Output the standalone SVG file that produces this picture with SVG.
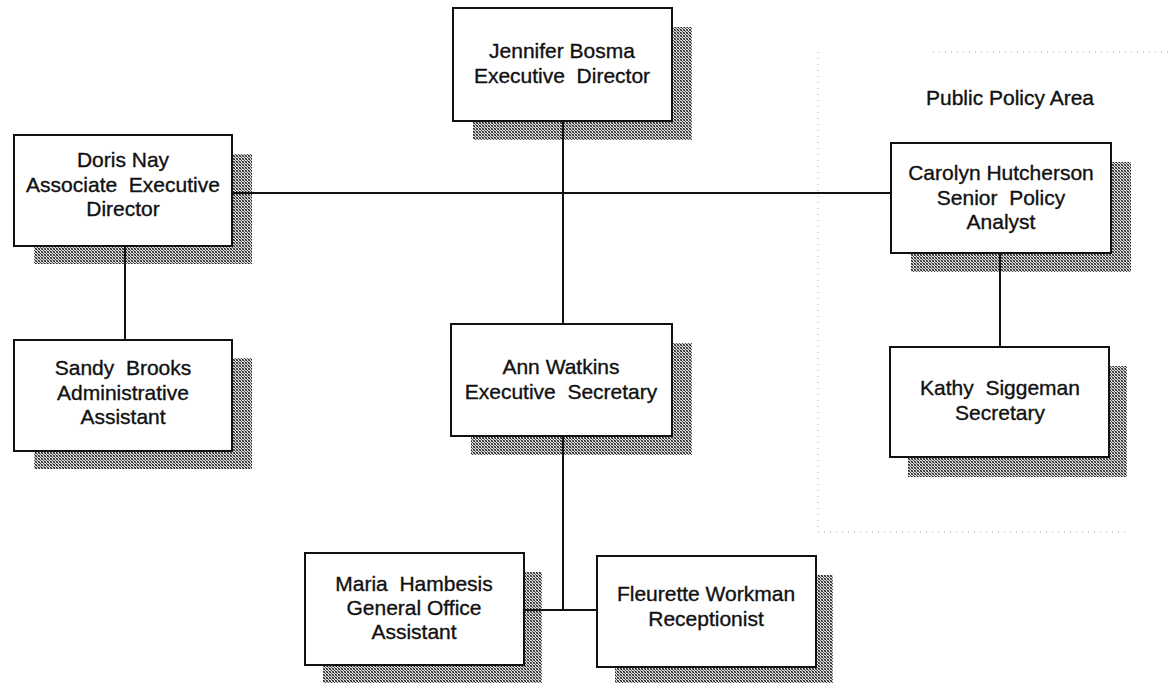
<svg xmlns="http://www.w3.org/2000/svg" width="1171" height="683" viewBox="0 0 1171 683">
  <defs>
    <!-- dithered halftone used for the drop shadows -->
    <pattern id="dither" width="3" height="3" patternUnits="userSpaceOnUse">
      <rect width="3" height="3" fill="#dcdcdc"/>
      <rect x="0" y="0" width="1" height="1" fill="#222"/>
      <rect x="1" y="1" width="1" height="1" fill="#555"/>
      <rect x="2" y="2" width="1" height="1" fill="#222"/>
      <rect x="2" y="0" width="1" height="1" fill="#777"/>
      <rect x="0" y="2" width="1" height="1" fill="#777"/>
    </pattern>
    <style>
      .shadow { fill: url(#dither); }
      .box { fill: #ffffff; stroke: #111; stroke-width: 2; }
      .label { font-family: "Liberation Sans", Arial, sans-serif; font-size: 21px; fill: #111; stroke: #111; stroke-width: 0.35; text-anchor: middle; }
      .wire { stroke: #111; stroke-width: 2; fill: none; }
      .area { stroke: #aaa; stroke-width: 1; stroke-dasharray: 1 5; fill: none; }
    </style>
  </defs>

  <rect width="1171" height="683" fill="#ffffff"/>

  <!-- dotted boundary of the public policy area -->
  <g id="policy-area">
    <path class="area" d="M818 52 V532 M933 52 H1171 M818 532 H1125"/>
    <text class="label" x="1010" y="105">Public Policy Area</text>
  </g>

  <!-- reporting lines -->
  <g id="connectors">
    <line class="wire" x1="563" y1="121" x2="563" y2="324"/>
    <line class="wire" x1="232" y1="193" x2="891" y2="193"/>
    <line class="wire" x1="125" y1="246" x2="125" y2="340"/>
    <line class="wire" x1="1000" y1="253" x2="1000" y2="347"/>
    <line class="wire" x1="563" y1="436" x2="563" y2="610"/>
    <line class="wire" x1="524" y1="610" x2="597" y2="610"/>
  </g>

  <g id="jennifer-bosma">
    <rect class="shadow" x="473" y="27" width="219" height="113"/>
    <line class="wire" x1="563" y1="121" x2="563" y2="140"/>
    <rect class="box" x="453" y="8" width="219" height="113"/>
    <text class="label" x="562" y="58">Jennifer Bosma</text>
    <text class="label" x="562" y="83" xml:space="preserve">Executive  Director</text>
  </g>

  <g id="doris-nay">
    <rect class="shadow" x="34" y="154" width="218" height="110"/>
    <line class="wire" x1="125" y1="246" x2="125" y2="264"/>
    <line class="wire" x1="232" y1="193" x2="252" y2="193"/>
    <rect class="box" x="14" y="135" width="218" height="111"/>
    <text class="label" x="123" y="167">Doris Nay</text>
    <text class="label" x="123" y="192" xml:space="preserve">Associate  Executive</text>
    <text class="label" x="123" y="216">Director</text>
  </g>

  <g id="carolyn-hutcherson">
    <rect class="shadow" x="911" y="162" width="220" height="110"/>
    <line class="wire" x1="1000" y1="253" x2="1000" y2="272"/>
    <rect class="box" x="891" y="143" width="220" height="110"/>
    <text class="label" x="1001" y="180">Carolyn Hutcherson</text>
    <text class="label" x="1001" y="205" xml:space="preserve">Senior  Policy</text>
    <text class="label" x="1001" y="229">Analyst</text>
  </g>

  <g id="sandy-brooks">
    <rect class="shadow" x="34" y="358" width="218" height="111"/>
    <rect class="box" x="14" y="340" width="218" height="111"/>
    <text class="label" x="123" y="375" xml:space="preserve">Sandy  Brooks</text>
    <text class="label" x="123" y="400">Administrative</text>
    <text class="label" x="123" y="424">Assistant</text>
  </g>

  <g id="ann-watkins">
    <rect class="shadow" x="471" y="343" width="221" height="112"/>
    <line class="wire" x1="563" y1="436" x2="563" y2="455"/>
    <rect class="box" x="451" y="324" width="221" height="112"/>
    <text class="label" x="561" y="374">Ann Watkins</text>
    <text class="label" x="561" y="399" xml:space="preserve">Executive  Secretary</text>
  </g>

  <g id="kathy-siggeman">
    <rect class="shadow" x="908" y="366" width="219" height="111"/>
    <rect class="box" x="890" y="347" width="219" height="110"/>
    <text class="label" x="1000" y="395" xml:space="preserve">Kathy  Siggeman</text>
    <text class="label" x="1000" y="420">Secretary</text>
  </g>

  <g id="maria-hambesis">
    <rect class="shadow" x="323" y="572" width="219" height="111"/>
    <line class="wire" x1="524" y1="610" x2="542" y2="610"/>
    <rect class="box" x="305" y="553" width="219" height="112"/>
    <text class="label" x="414" y="591" xml:space="preserve">Maria  Hambesis</text>
    <text class="label" x="414" y="615">General Office</text>
    <text class="label" x="414" y="639">Assistant</text>
  </g>

  <g id="fleurette-workman">
    <rect class="shadow" x="615" y="575" width="218" height="108"/>
    <rect class="box" x="597" y="556" width="219" height="111"/>
    <text class="label" x="706" y="601">Fleurette Workman</text>
    <text class="label" x="706" y="626">Receptionist</text>
  </g>
</svg>
